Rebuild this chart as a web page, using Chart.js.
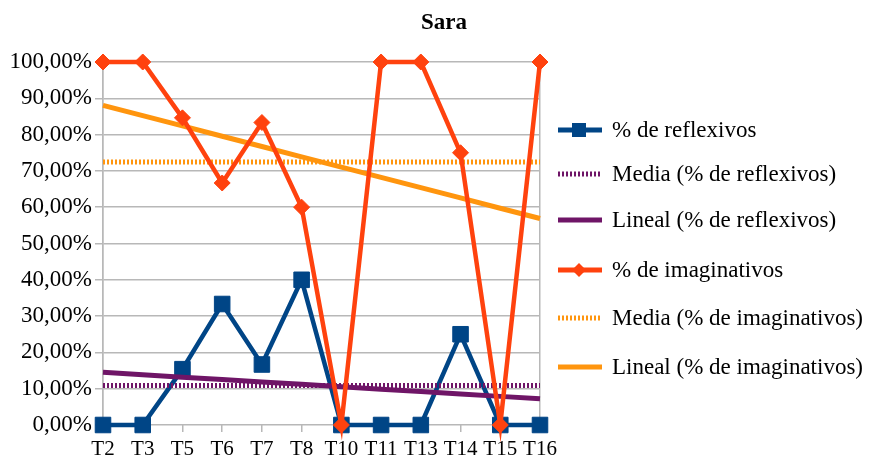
<!DOCTYPE html>
<html>
<head>
<meta charset="utf-8">
<script src="https://cdn.jsdelivr.net/npm/chart.js@4/dist/chart.umd.min.js"></script>
<style>
  html, body { margin: 0; padding: 0; background: #fff; }
  #wrap { position: relative; width: 870px; height: 456px; font-family: 'Liberation Serif'; }
  #chart { position: absolute; left: 0; top: 0; }
  #title { position: absolute; top: 9px; left: 444px; transform: translateX(-50%); font-size: 23px; font-weight: bold; color: #000; white-space: nowrap; }
  #legend { position: absolute; left: 556px; top: 0; }
  .item { position: absolute; left: 0; display: flex; align-items: center; white-space: nowrap; font-size: 23px; color: #000; height: 30px; }
  .item svg { margin-right: 10px; }
</style>
</head>
<body>
<div id="wrap">
  <canvas id="chart" width="870" height="456"></canvas>
  <div id="title">Sara</div>
  <div id="legend"></div>
</div>
<script>
// Sessions and the two percentage series
const categories = ['T2', 'T3', 'T5', 'T6', 'T7', 'T8', 'T10', 'T11', 'T13', 'T14', 'T15', 'T16'];
const reflexivos = [0, 0, 15.38, 33.33, 16.67, 40, 0, 0, 0, 25, 0, 0];
const imaginativos = [100, 100, 84.62, 66.67, 83.33, 60, 0, 100, 100, 75, 0, 100];
const yTicks = [0, 10, 20, 30, 40, 50, 60, 70, 80, 90, 100];

const BLUE = '#004586';
const RED = '#ff420e';
const PURPLE = '#6f1567';
const ORANGE = '#ff950e';
const GRID = '#b8b8b8';

// Mean line: the average repeated across every session
function meanLine(vals) {
  const m = vals.reduce((a, b) => a + b, 0) / vals.length;
  return vals.map(() => m);
}
// Least-squares linear trend over the session index
function linearTrend(vals) {
  const n = vals.length;
  const xs = vals.map((_, i) => i + 1);
  const mx = xs.reduce((a, b) => a + b, 0) / n;
  const my = vals.reduce((a, b) => a + b, 0) / n;
  let sxy = 0, sxx = 0;
  for (let i = 0; i < n; i++) { sxy += (xs[i] - mx) * (vals[i] - my); sxx += (xs[i] - mx) ** 2; }
  const b = sxy / sxx;
  return xs.map(x => my + b * (x - mx));
}

const fmtPct = v => v.toFixed(2).replace('.', ',') + '%';

const series = [
  { label: '% de reflexivos', data: reflexivos, borderColor: BLUE, backgroundColor: BLUE,
    borderWidth: 4.5, pointStyle: 'rect', pointRadius: 11, pointBorderWidth: 1, order: 6 },
  { label: 'Media (% de reflexivos)', data: meanLine(reflexivos), borderColor: PURPLE,
    borderWidth: 5, borderDash: [2, 2], pointRadius: 0, order: 5 },
  { label: 'Lineal (% de reflexivos)', data: linearTrend(reflexivos), borderColor: PURPLE,
    borderWidth: 5, pointRadius: 0, order: 4 },
  { label: '% de imaginativos', data: imaginativos, borderColor: RED, backgroundColor: RED,
    borderWidth: 4.5, pointStyle: 'rectRot', pointRadius: 8, pointBorderWidth: 1, order: 1 },
  { label: 'Media (% de imaginativos)', data: meanLine(imaginativos), borderColor: ORANGE,
    borderWidth: 5, borderDash: [2, 2], pointRadius: 0, order: 3 },
  { label: 'Lineal (% de imaginativos)', data: linearTrend(imaginativos), borderColor: ORANGE,
    borderWidth: 5, pointRadius: 0, order: 2 }
];

new Chart(document.getElementById('chart'), {
  type: 'line',
  data: {
    labels: categories,
    datasets: series.map(s => Object.assign({ tension: 0, fill: false, clip: false, borderCapStyle: 'butt', pointHoverRadius: s.pointRadius }, s))
  },
  options: {
    responsive: false,
    animation: false,
    events: [],
    layout: { padding: { left: 0, right: 330, top: 62, bottom: 0 } },
    plugins: { legend: { display: false }, title: { display: false }, tooltip: { enabled: false } },
    scales: {
      x: {
        offset: false,
        grid: {
          color: ctx => (ctx.index === 0 || ctx.index === categories.length - 1) ? GRID : 'rgba(0,0,0,0)',
          tickColor: GRID, tickLength: 7, lineWidth: 1.5
        },
        border: { display: false },
        ticks: { color: '#000', font: { family: 'Liberation Serif', size: 21 }, padding: 5, maxRotation: 0, autoSkip: false },
        afterFit: s => { s.height = 31; }
      },
      y: {
        min: 0, max: 100,
        afterBuildTicks: s => { s.ticks = yTicks.map(v => ({ value: v })); },
        grid: { color: GRID, tickColor: GRID, tickLength: 8, lineWidth: 1.5 },
        border: { color: GRID, width: 1.5 },
        ticks: { color: '#000', font: { family: 'Liberation Serif', size: 23 }, padding: 3, callback: v => fmtPct(v) },
        afterFit: s => { s.width = 103; }
      }
    }
  }
});

// Legend rows: line swatch with the series marker, then the label
const legendTops = [115, 159, 205, 255, 303, 352];
const legend = document.getElementById('legend');
series.forEach((s, i) => {
  const row = document.createElement('div');
  row.className = 'item';
  row.style.top = legendTops[i] + 'px';
  let marker = '';
  if (s.pointStyle === 'rect') marker = `<rect x="16" y="8" width="14" height="14" fill="${s.borderColor}"/>`;
  if (s.pointStyle === 'rectRot') marker = `<polygon points="23,8 30,15 23,22 16,15" fill="${s.borderColor}"/>`;
  const dash = s.borderDash ? 'stroke-dasharray="2 2"' : '';
  row.innerHTML = `<svg width="46" height="30"><line x1="2" y1="15" x2="46" y2="15" stroke="${s.borderColor}" stroke-width="5" ${dash}/>${marker}</svg><span>${s.label}</span>`;
  legend.appendChild(row);
});
</script>
</body>
</html>
